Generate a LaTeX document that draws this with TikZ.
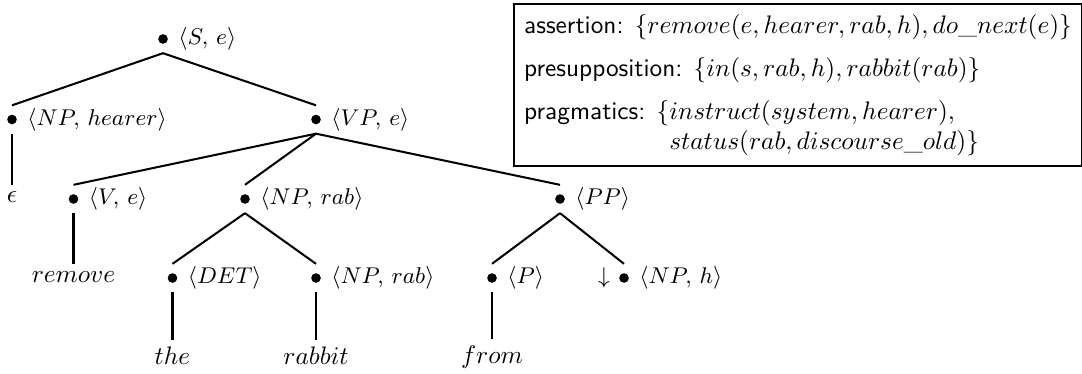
\documentclass[tikz,border=0pt]{standalone}
\usepackage{amsmath}
\usepackage{tikz}
\usetikzlibrary{positioning}

\begin{document}
\begin{tikzpicture}[x=0.395pt, y=-0.395pt,
    dot/.style={rectangle, inner sep=0pt, minimum width=3.8pt, minimum height=10.8pt,
        path picture={\fill (path picture bounding box.center) circle (1.9pt);}},
    lbl/.style={inner sep=0pt, font=\fontsize{9.5}{11}\selectfont},
    word/.style={inner sep=2.6pt},
    branch/.style={line width=0.8pt},
    stem/.style={line width=0.8pt},
    infobox/.style={draw, line width=0.8pt, anchor=north west, align=left, inner sep=4pt}]
    \useasboundingbox (0,0) rectangle (1082,374);
    \node[dot] (s) at (163,39) {};
    \node[dot] (nph) at (12,119.5) {};
    \node[dot] (vp) at (316,119.5) {};
    \node[dot] (v) at (73.5,199) {};
    \node[dot] (nprab) at (245,199) {};
    \node[dot] (pp) at (560,199) {};
    \node[dot] (det) at (172.5,278) {};
    \node[dot] (nprab2) at (316,278) {};
    \node[dot] (p) at (492,278) {};
    \node[dot] (nph2) at (624,278) {};
    \node[lbl, right=3.8pt of s] (s-l) {$\langle S,\,e\rangle$};
    \node[lbl, right=3.8pt of nph] (nph-l) {$\langle NP,\,hearer\rangle$};
    \node[lbl, right=3.8pt of vp] (vp-l) {$\langle VP,\,e\rangle$};
    \node[lbl, right=3.8pt of v] (v-l) {$\langle V,\,e\rangle$};
    \node[lbl, right=3.8pt of nprab] (nprab-l) {$\langle NP,\,rab\rangle$};
    \node[lbl, right=3.8pt of pp] (pp-l) {$\langle PP\rangle$};
    \node[lbl, right=3.8pt of det] (det-l) {$\langle DET\rangle$};
    \node[lbl, right=3.8pt of nprab2] (nprab2-l) {$\langle NP,\,rab\rangle$};
    \node[lbl, right=3.8pt of p] (p-l) {$\langle P\rangle$};
    \node[lbl, right=3.8pt of nph2] (nph2-l) {$\langle NP,\,h\rangle$};
    \node[lbl, left=3.3pt of nph2] (subst) {$\downarrow$};
    \node[word] (eps) at (12,197.5) {$\epsilon$};
    \node[word] (remove) at (73.5,277) {$remove$};
    \node[word] (the) at (172.5,356) {$the$};
    \node[word] (rabbit) at (316,356) {$rabbit$};
    \node[word] (from) at (492,357) {$from$};
    \draw[branch] (s.south) -- (nph.north);
    \draw[branch] (s.south) -- (vp.north);
    \draw[branch] (vp.south) -- (v.north);
    \draw[branch] (vp.south) -- (nprab.north);
    \draw[branch] (vp.south) -- (pp.north);
    \draw[branch] (nprab.south) -- (det.north);
    \draw[branch] (nprab.south) -- (nprab2.north);
    \draw[branch] (pp.south) -- (p.north);
    \draw[branch] (pp.south) -- (nph2.north);
    \draw[stem] (nph.south) -- (eps.north);
    \draw[stem] (v.south) -- (remove.north);
    \draw[stem] (det.south) -- (the.north);
    \draw[stem] (nprab2.south) -- (rabbit.north);
    \draw[stem] (p.south) -- (from.north);
    \node[infobox] (sem) at (513,3) {%
        \textsf{assertion:} $\{remove(e,hearer,rab,h), do\_next(e)\}$\\[5pt]
        \textsf{presupposition:} $\{in(s,rab,h), rabbit(rab)\}$\\[5pt]
        \textsf{pragmatics:} $\{instruct(system,hearer),$\\
        \phantom{\textsf{pragmatics:} $\{$}$status(rab,discourse\_old)\}$};
\end{tikzpicture}
\end{document}
